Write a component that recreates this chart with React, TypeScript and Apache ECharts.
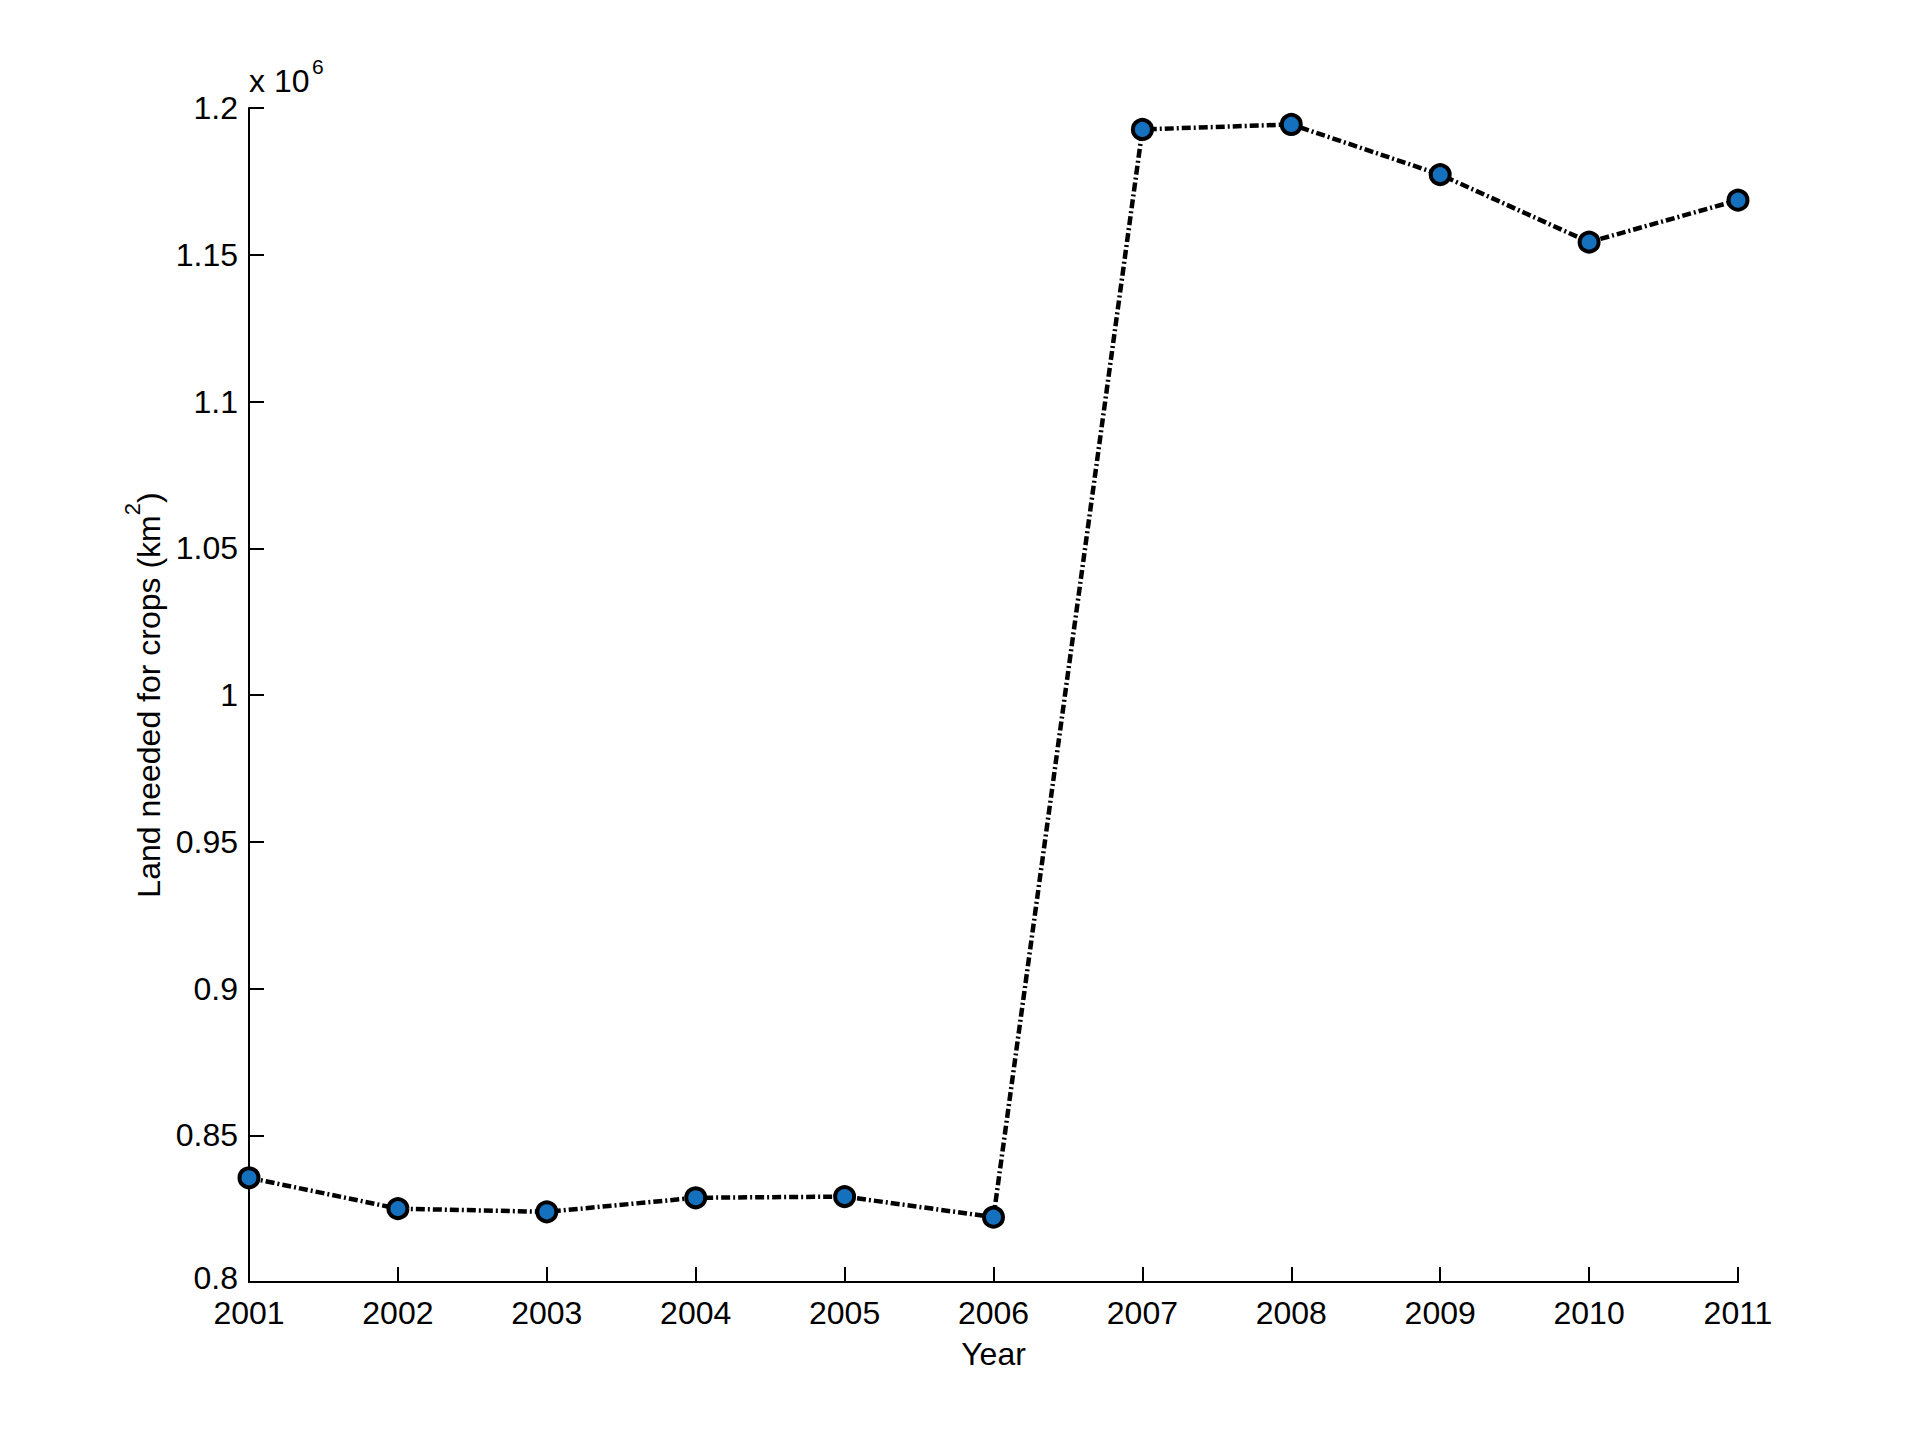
import React, { useEffect, useRef } from "react";
import * as echarts from "echarts";

const years = [2001, 2002, 2003, 2004, 2005, 2006, 2007, 2008, 2009, 2010, 2011];
const landNeeded = [835500, 825000, 823900, 828700, 829100, 822100, 1192700, 1194400, 1177300, 1154300, 1168600];
const yTicks = [0.8, 0.85, 0.9, 0.95, 1, 1.05, 1.1, 1.15, 1.2];

const FONT = "'Liberation Sans', Arial, sans-serif";
const FS = 32;

export default function App() {
  const ref = useRef<HTMLDivElement>(null);
  useEffect(() => {
    document.body.style.margin = "0";
    if (!ref.current) return;
    const chart = echarts.init(ref.current, undefined, { renderer: "svg" });
    const left = 249, right = 182, top = 108, bottom = 158;
    chart.setOption({
      animation: false,
      backgroundColor: "#ffffff",
      textStyle: { fontFamily: FONT },
      grid: { left, right, top, bottom, containLabel: false },
      xAxis: {
        type: "value",
        min: 2001,
        max: 2011,
        interval: 1,
        name: "Year",
        nameLocation: "middle",
        nameGap: 56,
        nameTextStyle: { fontSize: FS, color: "#000", fontFamily: FONT },
        axisLine: { show: true, lineStyle: { color: "#000", width: 2 } },
        axisTick: { show: true, inside: true, length: 15, lineStyle: { color: "#000", width: 2 } },
        axisLabel: {
          fontSize: FS, color: "#000", margin: 17, fontFamily: FONT, lineHeight: 28,
          formatter: (v: number) => String(v),
        },
        splitLine: { show: false },
      },
      yAxis: {
        type: "value",
        min: yTicks[0] * 1e6,
        max: yTicks[yTicks.length - 1] * 1e6,
        interval: 50000,
        axisLine: { show: true, lineStyle: { color: "#000", width: 2 } },
        axisTick: { show: true, inside: true, length: 15, lineStyle: { color: "#000", width: 2 } },
        axisLabel: {
          fontSize: FS, color: "#000", margin: 11, fontFamily: FONT, lineHeight: 22,
          formatter: (v: number) => {
            const s = yTicks.find((t) => Math.abs(t * 1e6 - v) < 1);
            if (s === undefined) return "";
            return s === yTicks[0] ? "{b|" + String(s) + "}" : String(s);
          },
          rich: {
            b: { fontSize: FS, fontFamily: FONT, color: "#000", lineHeight: 22, padding: [0, 0, 8, 0] },
          },
        },
        splitLine: { show: false },
      },
      graphic: [
        {
          type: "text",
          x: 143,
          y: 695,
          rotation: Math.PI / 2,
          style: {
            text: "{a|Land needed for crops (km}{s|2}{a|)}",
            align: "center",
            verticalAlign: "middle",
            rich: {
              a: { fontSize: FS, fontFamily: FONT, fill: "#000", lineHeight: 44, verticalAlign: "bottom" },
              s: { fontSize: 22, fontFamily: FONT, fill: "#000", lineHeight: 44, verticalAlign: "top" },
            },
          },
        },
        {
          type: "text",
          x: 249,
          y: 97,
          style: {
            text: "x 10",
            fontSize: FS,
            fontFamily: FONT,
            fill: "#000",
            align: "left",
            verticalAlign: "bottom",
          },
        },
        {
          type: "text",
          x: 312,
          y: 77,
          style: {
            text: "6",
            fontSize: 21,
            fontFamily: FONT,
            fill: "#000",
            align: "left",
            verticalAlign: "bottom",
          },
        },
      ],
      series: [
        {
          type: "line",
          data: years.map((y, i) => [y, landNeeded[i]]),
          symbol: "circle",
          symbolSize: 19,
          lineStyle: { color: "#000", width: 4.5, type: [9, 3, 2, 3] },
          itemStyle: { color: "#1570bd", borderColor: "#000", borderWidth: 4 },
          z: 3,
        },
      ],
    });
    return () => chart.dispose();
  }, []);
  return <div ref={ref} style={{ width: 1920, height: 1440 }} />;
}
